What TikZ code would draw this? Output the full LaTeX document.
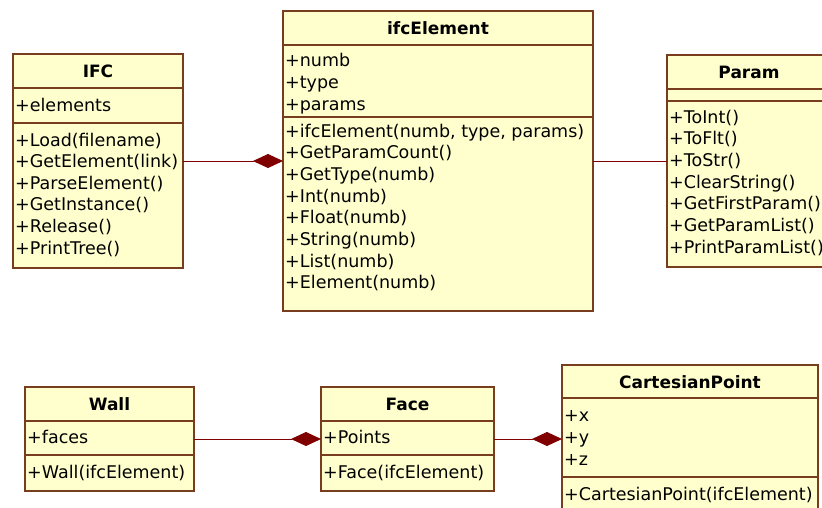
\documentclass[tikz,border=0pt]{standalone}
\usepackage{fontspec}
\setmainfont{DejaVu Sans}
\usetikzlibrary{arrows.meta}
\definecolor{umlfill}{RGB}{255,255,206}
\definecolor{umlline}{RGB}{120,60,30}
\definecolor{linkred}{RGB}{128,0,0}
\tikzset{
  classbox/.style={draw=umlline, fill=umlfill, line width=1.2pt, rectangle,
    inner sep=0pt, outer sep=0pt, anchor=north west},
  divider/.style={draw=umlline, line width=1.2pt},
  classname/.style={font=\fontsize{17}{20}\selectfont\bfseries, inner sep=0pt, anchor=base},
  member/.style={font=\fontsize{17.5}{20}\selectfont, inner sep=0pt, anchor=base west},
  link/.style={draw=linkred, line width=1pt},
  composition/.style={link, -{Diamond[length=30pt,width=14pt,fill=linkred,color=linkred]}}
}
\begin{document}
\begin{tikzpicture}[x=1pt,y=-1pt]
  \useasboundingbox (0,0) rectangle (822,507);
  \fill[white] (0,0) rectangle (822,507);
  \clip (0,0) rectangle (822,507);

  % ---- class boxes ----
  \node[classbox, minimum width=170pt, minimum height=214pt] (ifc)   at (13,54)  {};
  \node[classbox, minimum width=310pt, minimum height=300pt] (ifcel) at (283,11) {};
  \node[classbox, minimum width=164pt, minimum height=212pt] (param) at (667,55) {};
  \node[classbox, minimum width=169pt, minimum height=104pt] (wall)  at (25,387) {};
  \node[classbox, minimum width=173pt, minimum height=104pt] (face)  at (321,387) {};
  \node[classbox, minimum width=256pt, minimum height=148pt] (cpt)   at (562,365) {};

  % ---- compartment dividers ----
  \foreach \cls/\a/\b in {ifc/34/69, ifcel/34/106, param/34/46, wall/34/68, face/34/68, cpt/33/112} {
    \draw[divider] ([yshift=-\a pt]\cls.north west) -- ([yshift=-\a pt]\cls.north east);
    \draw[divider] ([yshift=-\b pt]\cls.north west) -- ([yshift=-\b pt]\cls.north east);
  }

  % ---- class names ----
  \node[classname] (ifc-name)   at (98,77)    {IFC};
  \node[classname] (ifcel-name) at (438,34)   {ifcElement};
  \node[classname] (param-name) at (749,78)   {Param};
  \node[classname] (wall-name)  at (109.5,410) {Wall};
  \node[classname] (face-name)  at (407.5,410) {Face};
  \node[classname] (cpt-name)   at (690,388)  {CartesianPoint};

  % ---- IFC ----
  \node[member] (ifc-a1) at (15,111) {+elements};
  \foreach \t [count=\i] in {+Load(filename), +GetElement(link), +ParseElement(),
      +GetInstance(), +Release(), +PrintTree()}
    \node[member] (ifc-m\i) at (15,{146+21.6*(\i-1)}) {\t};

  % ---- ifcElement ----
  \foreach \t [count=\i] in {+numb, +type, +params}
    \node[member] (ifcel-a\i) at (285,{66+22*(\i-1)}) {\t};
  \foreach \t [count=\i] in {{+ifcElement(numb, type, params)}, +GetParamCount(),
      +GetType(numb), +Int(numb), +Float(numb), +String(numb), +List(numb), +Element(numb)}
    \node[member] (ifcel-m\i) at (285,{137+21.7*(\i-1)}) {\t};

  % ---- Param ----
  \foreach \t [count=\i] in {+ToInt(), +ToFlt(), +ToStr(), +ClearString(),
      +GetFirstParam(), +GetParamList(), +PrintParamList()}
    \node[member] (param-m\i) at (669,{123+21.7*(\i-1)}) {\t};

  % ---- Wall ----
  \node[member] (wall-a1) at (27,443) {+faces};
  \node[member] (wall-m1) at (27,478) {+Wall(ifcElement)};

  % ---- Face ----
  \node[member] (face-a1) at (323,443) {+Points};
  \node[member] (face-m1) at (323,478) {+Face(ifcElement)};

  % ---- CartesianPoint ----
  \foreach \t [count=\i] in {+x, +y, +z}
    \node[member] (cpt-a\i) at (564,{421+22*(\i-1)}) {\t};
  \node[member] (cpt-m1) at (564,500) {+CartesianPoint(ifcElement)};

  % ---- associations ----
  \draw[composition] (ifc) -- (ifcel);
  \draw[link] (ifcel) -- (param);
  \draw[composition] (wall) -- (face);
  \draw[composition] (face) -- (cpt);
\end{tikzpicture}
\end{document}
